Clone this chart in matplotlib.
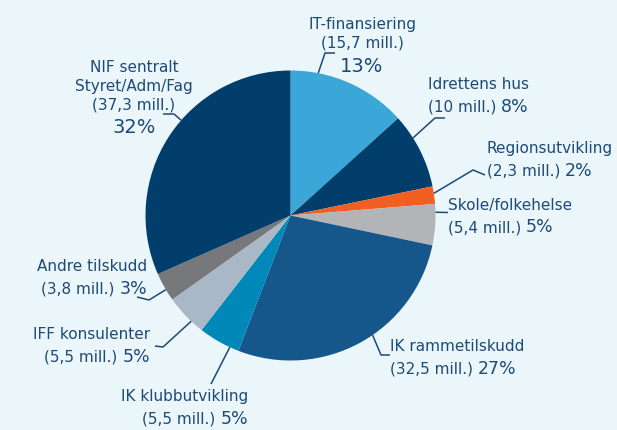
import matplotlib
matplotlib.use("Agg")
import matplotlib.pyplot as plt
import numpy as np

# ---- data ----
names = ["IT-finansiering", "Idrettens hus", "Regionsutvikling", "Skole/folkehelse",
         "IK rammetilskudd", "IK klubbutvikling", "IFF konsulenter", "Andre tilskudd",
         "NIF sentralt\nStyret/Adm/Fag"]
values = [15.7, 10, 2.3, 5.4, 32.5, 5.5, 5.5, 3.8, 37.3]
amounts = ["15,7", "10", "2,3", "5,4", "32,5", "5,5", "5,5", "3,8", "37,3"]
percents = [13, 8, 2, 5, 27, 5, 5, 3, 32]
colors = ["#3aa7d8", "#023e6c", "#f15f22", "#b2b4b8", "#15578a",
          "#0088b8", "#a8b8c6", "#77787b", "#023e6c"]

# ---- layout (pixel coords, y from top) ----
W, H = 617, 430
BG = "#ebf6fb"
TXT = "#1d4a76"
CX, CY, R = 290.5, 215.5, 145

# label style: (anchor x, first baseline y, ha, stacked)
label_pos = [
    (362, 29, "center", True),
    (428, 89, "left", False),
    (487, 153, "left", False),
    (448, 210, "left", False),
    (390, 351, "left", False),
    (248, 401, "right", False),
    (150, 339, "right", False),
    (147, 271, "right", False),
    (134, 72, "center", True),
]
leader_frac = [0.23, 0.32, 0.4, 0.2, 0.44, 0.22, 0.32, 0.4, 0.57]
leader_pts = [
    [(325, 53), (335, 53)],
    [(435, 118), (445, 118)],
    [(473, 170), (485, 175)],
    [(448, 212.5)],
    [(381, 355), (390, 355)],
    [(211, 384)],
    [(163, 347), (155, 346)],
    [(149, 300), (137, 297)],
    [(174, 114), (163, 114)],
]

FS_NAME = 11
FS_PCT_STACK = 14
FS_PCT_INLINE = 12.5
LINE = 18.5

fig = plt.figure(figsize=(W / 100, H / 100), dpi=100, facecolor=BG)
ax = fig.add_axes([0, 0, 1, 1])
ax.set_facecolor(BG)

def Y(y):
    return H - y

wedges, _ = ax.pie(values, colors=colors, startangle=90, counterclock=False,
                   center=(CX, Y(CY)), radius=R, frame=True,
                   wedgeprops=dict(linewidth=0))
ax.set_xlim(0, W)
ax.set_ylim(0, H)
ax.set_aspect("equal")
ax.axis("off")

fig.canvas.draw()
renderer = fig.canvas.get_renderer()

def width_px(s, size):
    t = ax.text(0, 0, s, fontsize=size, family="DejaVu Sans")
    w = t.get_window_extent(renderer).width
    t.remove()
    return w

def draw_line(parts, x, y, ha):
    widths = [width_px(s, sz) for s, sz in parts]
    total = sum(widths)
    if ha == "left":
        start = x
    elif ha == "right":
        start = x - total
    else:
        start = x - total / 2
    cur = start
    for (s, sz), w in zip(parts, widths):
        ax.text(cur, Y(y), s, fontsize=sz, family="DejaVu Sans", color=TXT,
                ha="left", va="baseline")
        cur += w

total_v = sum(values)
cum = np.cumsum([0] + values)
for i, name in enumerate(names):
    x, y, ha, stacked = label_pos[i]
    lines = name.split("\n")
    for j, ln in enumerate(lines):
        draw_line([(ln, FS_NAME)], x, y + j * LINE, ha)
    yy = y + len(lines) * LINE
    mill = f"({amounts[i]} mill.)"
    pct = f"{percents[i]}%"
    if stacked:
        draw_line([(mill, FS_NAME)], x, yy, ha)
        draw_line([(pct, FS_PCT_STACK)], x, yy + 24, ha)
    else:
        draw_line([(mill + " ", FS_NAME), (pct, FS_PCT_INLINE)], x, yy + 4, ha)

    # leader line
    a0 = cum[i] / total_v * 360
    a1 = cum[i + 1] / total_v * 360
    ang = np.deg2rad(a0 + leader_frac[i] * (a1 - a0))
    sx = CX + R * np.sin(ang)
    sy = CY - R * np.cos(ang)
    pts = [(sx, sy)] + leader_pts[i]
    ax.plot([p[0] for p in pts], [Y(p[1]) for p in pts], color=TXT, lw=1.1,
            solid_capstyle="butt")

fig.savefig("out.png", dpi=100, facecolor=BG)
